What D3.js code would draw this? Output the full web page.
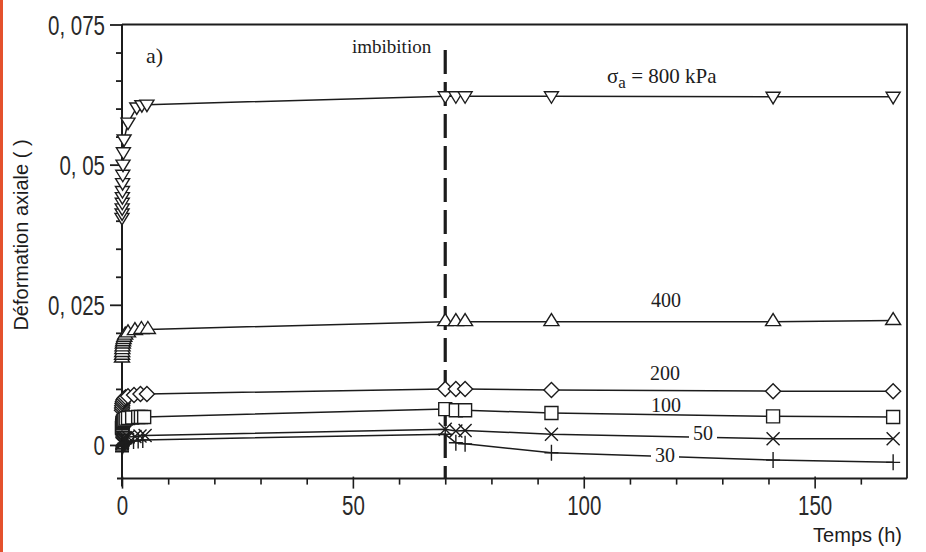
<!DOCTYPE html>
<html><head><meta charset="utf-8">
<script src="https://cdn.jsdelivr.net/npm/d3@7"></script>
<style>body{margin:0;background:#fff}svg{display:block}</style>
</head><body><svg id="c" width="926" height="552"></svg>
<script>
// ---- data ----
const xTicksMajor = [0, 50, 100, 150];
const xTickLabels = ["0", "50", "100", "150"];
const yTicksMajor = [0, 0.025, 0.05, 0.075];
const yTickLabels = ["0", "0, 025", "0, 05", "0, 075"];
const seriesNames = ["800", "400", "200", "100", "50", "30"];
const imbibitionTime = 70;

const t800 = [0,0.02,0.04,0.06,0.08,0.1,0.13,0.17,0.22,0.3,0.45,1.3,3.2,4.3,5.4,70,72.3,74.3,93,141,167];
const v800 = [0.0405,0.0413,0.0422,0.0432,0.0442,0.0453,0.0467,0.0482,0.0500,0.0522,0.0545,0.0575,0.0602,0.0606,0.0607,0.0622,0.0622,0.0622,0.0622,0.0621,0.0621];

const t400 = [0,0.02,0.05,0.08,0.12,0.18,0.25,0.35,0.5,0.7,1.3,2.8,4.2,5.6,70,72.3,74.3,93,141,167];
const v400 = [0.0155,0.0160,0.0165,0.0170,0.0175,0.0180,0.0184,0.0188,0.0192,0.0196,0.0200,0.0204,0.0206,0.0206,0.0220,0.0220,0.0220,0.0220,0.0220,0.0222];

const t200 = [0,0.02,0.05,0.1,0.18,0.3,0.5,0.8,1.3,2.6,4.0,5.4,70,72.3,74.3,93,141,167];
const v200 = [0.0062,0.0066,0.0070,0.0074,0.0077,0.0080,0.0083,0.0085,0.0087,0.0089,0.0091,0.0091,0.0100,0.0100,0.0100,0.0098,0.0096,0.0096];

const t100 = [0,0.02,0.05,0.1,0.18,0.3,0.5,0.8,1.3,2.2,3.5,4.1,4.8,70,72.3,74.3,93,141,167];
const v100 = [0.0030,0.0033,0.0036,0.0039,0.0041,0.0043,0.0045,0.0047,0.0048,0.0049,0.0050,0.0050,0.0050,0.0064,0.0062,0.0062,0.0057,0.0051,0.0050];

const t50 = [0,0.02,0.05,0.1,0.18,0.3,0.5,0.8,1.3,2.8,3.9,5.0,70,72.3,74.3,93,141,167];
const v50 = [0.0002,0.0004,0.0006,0.0008,0.0010,0.0011,0.0012,0.0013,0.0014,0.0015,0.0016,0.0017,0.0028,0.0025,0.0026,0.0019,0.0011,0.0011];

const t30 = [0,0.02,0.05,0.1,0.18,0.3,0.5,0.8,1.3,2.5,3.5,4.5,70,72.3,74.3,93,141,167];
const v30 = [-0.0012,-0.0009,-0.0006,-0.0003,-0.0001,0.0001,0.0003,0.0004,0.0005,0.0007,0.0008,0.0009,0.0019,0.0004,0.0002,-0.0014,-0.0027,-0.0031];

// ---- drawing ----
const svg = d3.select("#c");
const ink = "#1c1c1c";
const L = 122, R = 907, T = 24.5, B = 478.6;
const x = d3.scaleLinear().domain([0, 170]).range([L, R]);
const y = d3.scaleLinear().domain([-0.006, 0.075]).range([B, T]);

svg.append("rect").attr("width", 926).attr("height", 552).attr("fill", "#fff");
svg.append("rect").attr("x", 0).attr("y", 0).attr("width", 3).attr("height", 552).attr("fill", "#e4512d");

// minor y ticks
const yMinor = d3.range(0.005, 0.0751, 0.005).filter(v => yTicksMajor.every(m => Math.abs(m - v) > 1e-6));
svg.append("g").attr("transform", `translate(${L},0)`)
  .call(d3.axisLeft(y).tickValues(yMinor).tickSize(6).tickFormat(""))
  .call(g => g.select(".domain").remove())
  .selectAll("line").attr("stroke", ink).attr("stroke-width", 1.8);

// major y ticks
const gy = svg.append("g").attr("transform", `translate(${L},0)`)
  .call(d3.axisLeft(y).tickValues(yTicksMajor).tickSize(12).tickFormat((d, i) => yTickLabels[i]))
  .call(g => g.select(".domain").remove());
gy.selectAll("line").attr("stroke", ink).attr("stroke-width", 1.8);
gy.selectAll("text").attr("x", null).attr("dy", null)
  .attr("transform", "translate(-17,10) scale(0.76,1)")
  .attr("text-anchor", "end")
  .attr("font-family", "Liberation Sans, Arial, sans-serif").attr("font-size", 27).attr("fill", "#2a2a2a");

// x ticks minor
const xMinor = d3.range(10, 170, 10).filter(v => v % 50 !== 0);
svg.append("g").attr("transform", `translate(0,${B})`)
  .call(d3.axisBottom(x).tickValues(xMinor).tickSize(6).tickFormat(""))
  .call(g => g.select(".domain").remove())
  .selectAll("line").attr("stroke", ink).attr("stroke-width", 1.6);

const gx = svg.append("g").attr("transform", `translate(0,${B})`)
  .call(d3.axisBottom(x).tickValues(xTicksMajor).tickSize(10).tickFormat((d, i) => xTickLabels[i]))
  .call(g => g.select(".domain").remove());
gx.selectAll("line").attr("stroke", ink).attr("stroke-width", 1.6).attr("y1", -2);
gx.selectAll("text").attr("y", null).attr("dy", null)
  .attr("transform", "translate(0,36) scale(0.76,1)")
  .attr("text-anchor", "middle")
  .attr("font-family", "Liberation Sans, Arial, sans-serif").attr("font-size", 27).attr("fill", "#2a2a2a");

// frame
svg.append("path").attr("d", `M${L},${T}H${R}V${B}`).attr("fill", "none").attr("stroke", ink).attr("stroke-width", 1.8);
svg.append("line").attr("x1", L).attr("x2", L).attr("y1", T).attr("y2", B + 8).attr("stroke", ink).attr("stroke-width", 2);
svg.append("line").attr("x1", L - 5).attr("x2", R).attr("y1", B).attr("y2", B).attr("stroke", ink).attr("stroke-width", 2);

// imbibition dashed line
svg.append("line").attr("x1", x(imbibitionTime)).attr("x2", x(imbibitionTime))
  .attr("y1", 50).attr("y2", B)
  .attr("stroke", ink).attr("stroke-width", 3.2).attr("stroke-dasharray", "24,8");

// series
const times = [t800, t400, t200, t100, t50, t30];
const vals = [v800, v400, v200, v100, v50, v30];
const markerPaths = [
  "M-7,-4.5L7,-4.5L0,7Z",
  "M-7.5,4L7.5,4L0,-8Z",
  "M0,-7.5L7.5,0L0,7.5L-7.5,0Z",
  "M-6.5,-6.5H6.5V6.5H-6.5Z",
  "M-6.5,-6.5L6.5,6.5M6.5,-6.5L-6.5,6.5",
  "M-7,0H7M0,-8V8"
];
const line = d3.line().x(d => x(d[0])).y(d => y(d[1]));
seriesNames.forEach((name, i) => {
  const pts = times[i].map((t, j) => [t, vals[i][j]]);
  svg.append("path").datum(pts).attr("d", line)
    .attr("fill", "none").attr("stroke", ink).attr("stroke-width", 1.5);
});
seriesNames.forEach((name, i) => {
  const pts = times[i].map((t, j) => [t, vals[i][j]]);
  const filled = i < 4;
  svg.append("g").selectAll("path").data(pts).join("path")
    .attr("transform", d => `translate(${x(d[0])},${y(d[1])})`)
    .attr("d", markerPaths[i])
    .attr("fill", filled ? "#fff" : "none")
    .attr("stroke", ink).attr("stroke-width", 1.4);
});

// labels
const serif = "Liberation Serif, 'Times New Roman', serif";
function lab(txt, px, py, bg) {
  const t = svg.append("text").attr("x", px).attr("y", py)
    .attr("font-family", serif).attr("font-size", 20).attr("fill", ink).text(txt);
  if (bg) {
    const b = t.node().getBBox();
    svg.insert("rect", () => t.node()).attr("x", b.x - 4).attr("y", b.y).attr("width", b.width + 8).attr("height", b.height).attr("fill", "#fff");
  }
}
const sig = svg.append("text").attr("x", 607).attr("y", 83)
  .attr("font-family", serif).attr("font-size", 21).attr("fill", ink);
sig.append("tspan").text("σ");
sig.append("tspan").attr("dy", 5).attr("font-size", 17).text("a");
sig.append("tspan").attr("dy", -5).text(" = " + seriesNames[0] + " kPa");
lab(seriesNames[1], 651, 307, false);
lab(seriesNames[2], 650, 380, false);
lab(seriesNames[3], 651, 412, false);
lab(seriesNames[4], 693, 440, true);
lab(seriesNames[5], 655, 462, true);

svg.append("text").attr("x", 146).attr("y", 63).attr("font-family", serif).attr("font-size", 22).attr("fill", ink).text("a)");
svg.append("text").attr("x", 352).attr("y", 53).attr("font-family", serif).attr("font-size", 19).attr("fill", ink).text("imbibition");

svg.append("text").attr("x", 902).attr("y", 542).attr("text-anchor", "end")
  .attr("font-family", "Liberation Sans, Arial, sans-serif").attr("font-size", 20).attr("fill", ink).text("Temps (h)");
svg.append("text").attr("transform", "translate(28,235) rotate(-90)").attr("text-anchor", "middle")
  .attr("font-family", "Liberation Sans, Arial, sans-serif").attr("font-size", 20).attr("fill", ink).text("Déformation axiale ( )");
</script>
</body></html>
